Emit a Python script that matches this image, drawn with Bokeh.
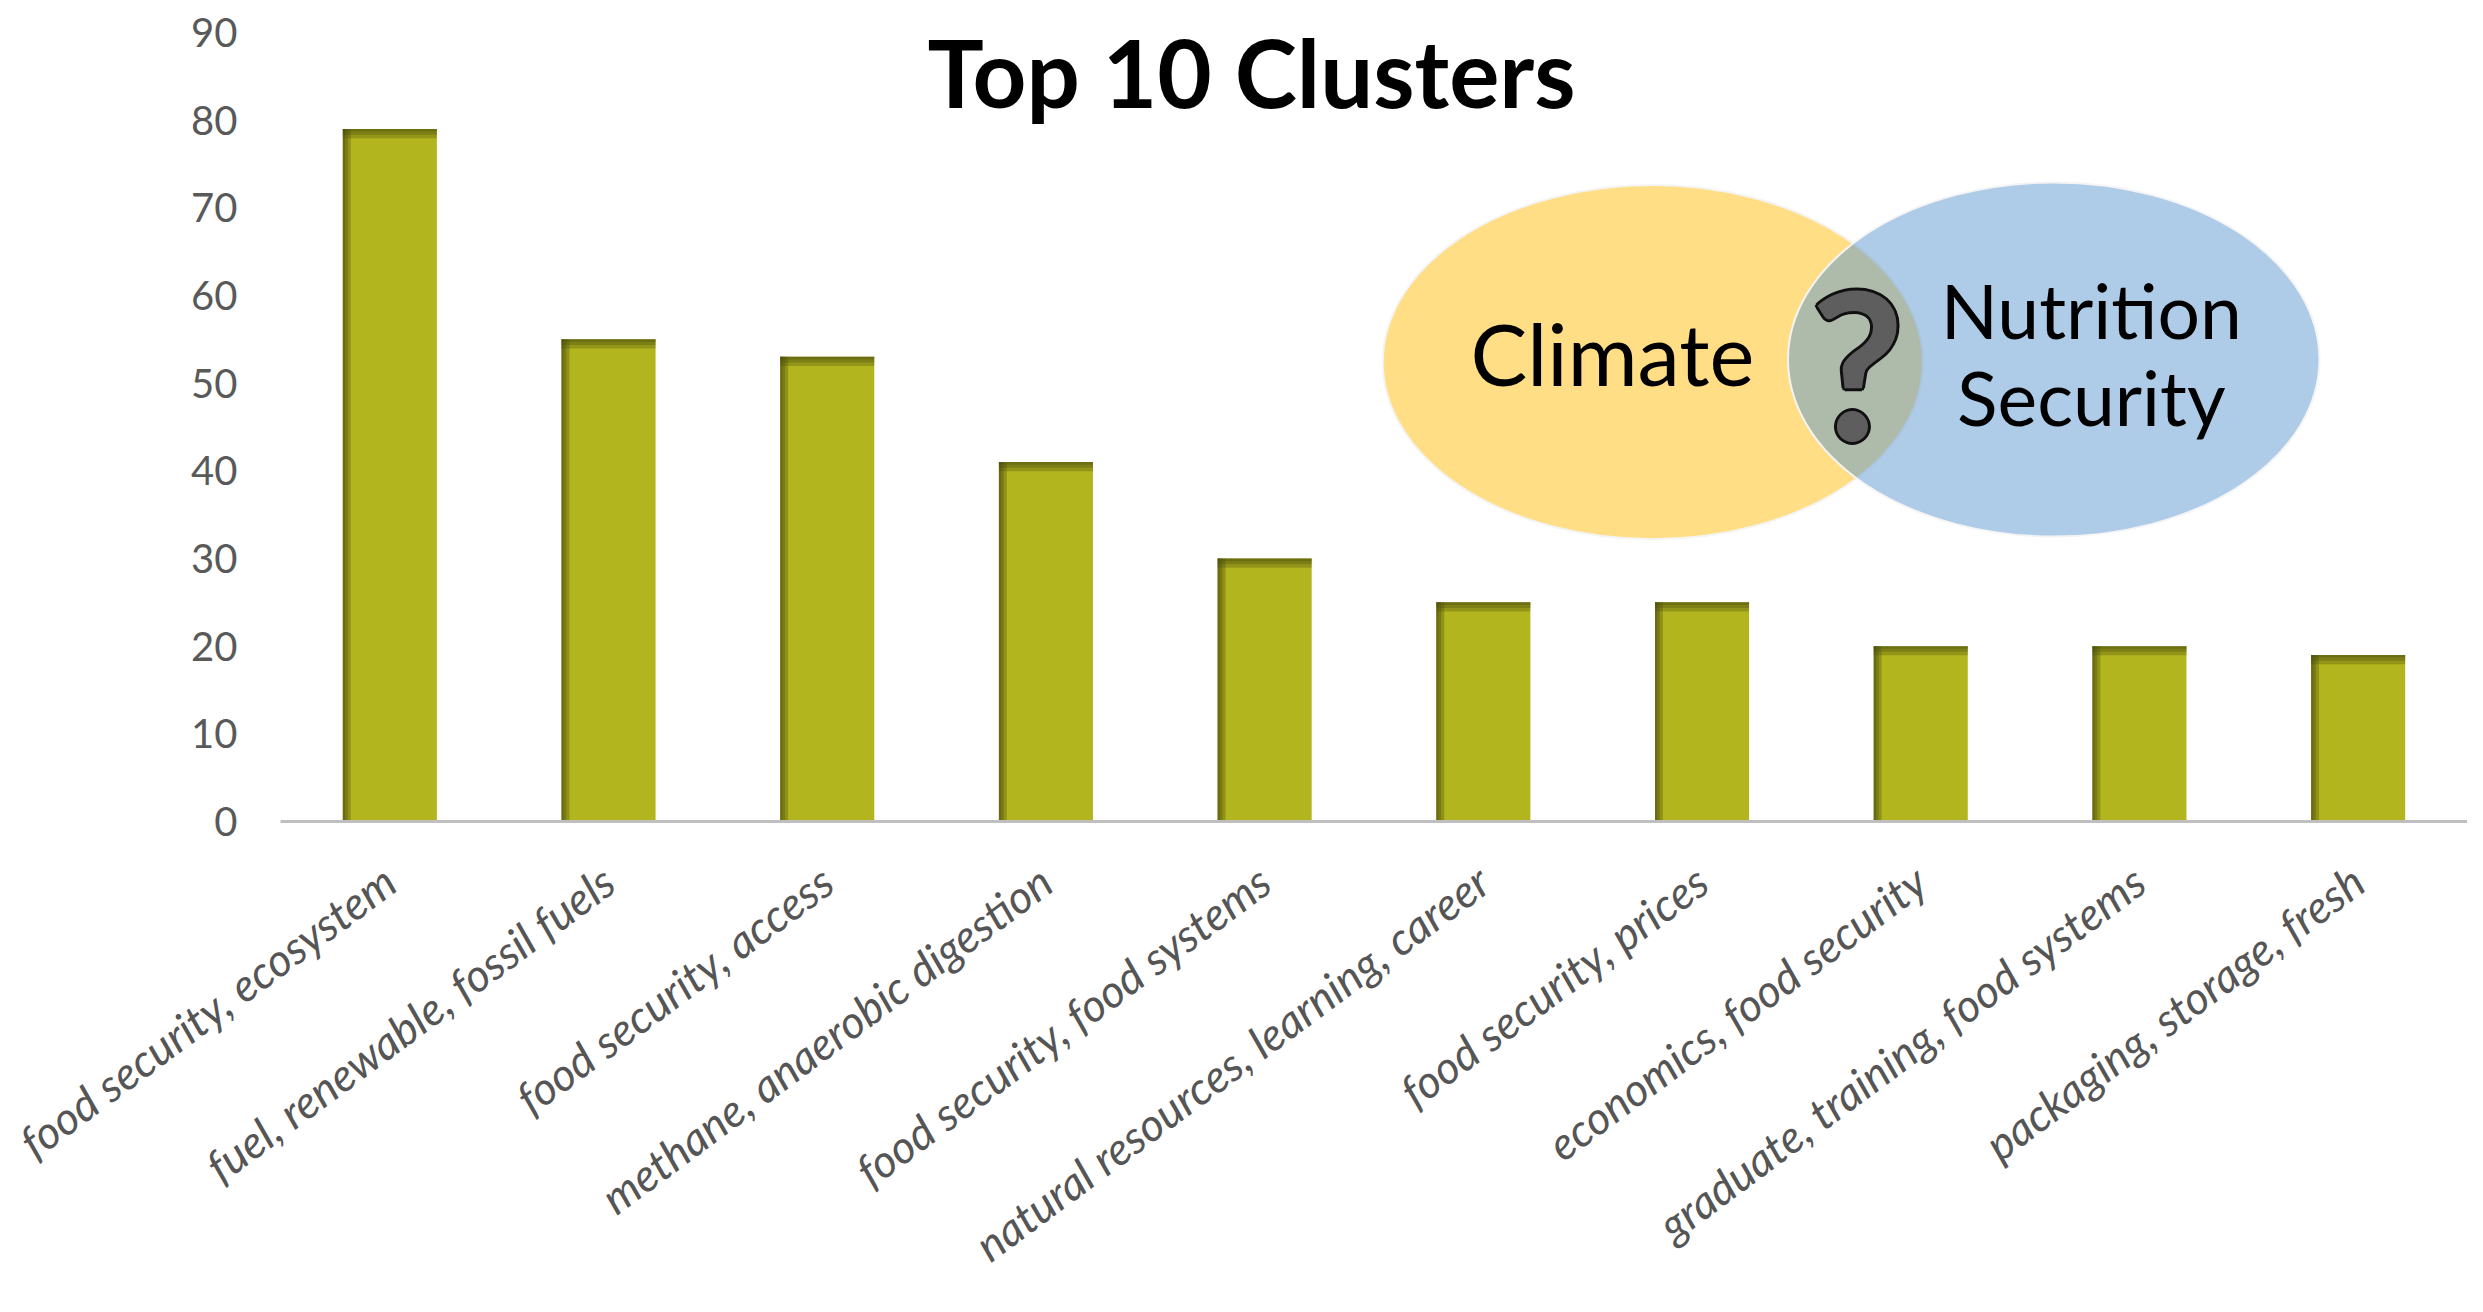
from bokeh.plotting import figure
from bokeh.models import ColumnDataSource, Label, FixedTicker
from bokeh.transform import dodge
from bokeh.core.properties import value
from bokeh.embed import file_html
from bokeh.resources import INLINE

categories = [
    "food security, ecosystem",
    "fuel, renewable, fossil fuels",
    "food security, access",
    "methane, anaerobic digestion",
    "food security, food systems",
    "natural resources, learning, career",
    "food security, prices",
    "economics, food security",
    "graduate, training, food systems",
    "packaging, storage, fresh",
]
counts = [79, 55, 53, 41, 30, 25, 25, 20, 20, 19]
y_ticks = [0, 10, 20, 30, 40, 50, 60, 70, 80, 90]

FONT = "Lato"
BAR_W = 0.43

src = ColumnDataSource(dict(
    cat=categories,
    val=counts,
    b1=[v - 0.3 for v in counts],
    b2=[v - 0.65 for v in counts],
    b3=[v - 1.05 for v in counts],
))

p = figure(x_range=categories, y_range=(0, 90), width=2467, height=1296,
           output_backend="svg", toolbar_location=None,
           min_border_left=280, min_border_right=0, min_border_top=32,
           min_border_bottom=446)
p.outline_line_color = None
p.xgrid.visible = False
p.ygrid.visible = False
p.background_fill_color = "white"

# bars
p.vbar(x="cat", top="val", width=BAR_W, source=src, fill_color="#B3B51E",
       line_color=None)
# inner shadow, left edge
for w in (0.01, 0.022, 0.036):
    p.vbar(x=dodge("cat", -BAR_W / 2 + w / 2, range=p.x_range), top="val",
           width=w, source=src, fill_color="#4A4C0C", fill_alpha=0.33,
           line_color=None)
# inner shadow, top edge
for b in ("b1", "b2", "b3"):
    p.vbar(x="cat", top="val", bottom=b, width=BAR_W, source=src,
           fill_color="#4A4C0C", fill_alpha=0.3, line_color=None)

# axes
ya = p.yaxis[0]
ya.ticker = FixedTicker(ticks=y_ticks)
ya.axis_line_color = None
ya.major_tick_line_color = None
ya.minor_tick_line_color = None
ya.major_label_text_font = FONT
ya.major_label_text_font_size = "40px"
ya.major_label_text_color = "#595959"
ya.major_label_standoff = 37

xa = p.xaxis[0]
xa.axis_line_color = "#BFBFBF"
xa.axis_line_width = 3
xa.major_tick_line_color = None
xa.minor_tick_line_color = None
xa.major_label_orientation = 0.64
xa.major_label_text_font = FONT
xa.major_label_text_font_style = "italic"
xa.major_label_text_font_size = "45px"
xa.major_label_text_color = "#555555"
xa.major_label_standoff = 48

# title
p.add_layout(Label(x=4.44, y=85.6, text="Top 10 Clusters", text_font=FONT,
                   text_font_style="bold", text_font_size="94px",
                   text_align="center", text_baseline="middle",
                   text_color="black"))

# Venn diagram inset
p.ellipse(x=[6.275], y=[52.4], width=[2.47], height=[40.4],
          fill_color="#FFDE85", line_color="#F4F4F4", line_width=2)
p.ellipse(x=[8.108], y=[52.7], width=[2.43], height=[40.4],
          fill_color="#5D97D1", fill_alpha=0.5, line_color="#F4F4F4",
          line_width=2)
p.text(x=[6.09], y=[53.4], text=["Climate"], text_font=value(FONT),
       text_font_size="85px", text_align="center", text_baseline="middle",
       text_color="black")
p.text(x=[8.28, 8.28], y=[58.3, 48.4], text=["Nutrition", "Security"],
       text_font=value(FONT), text_font_size="75px", text_align="center",
       text_baseline="middle", text_color="black")
# question mark with dark outline
for dx, dy in [(-3, 0), (3, 0), (0, -3), (0, 3), (-2, -2), (2, 2), (-2, 2), (2, -2)]:
    p.text(x=[7.21], y=[52.4], text=["?"], text_font=value(FONT),
           text_font_style="bold", text_font_size="205px", text_align="center",
           text_baseline="middle", text_color="#111111", x_offset=dx, y_offset=dy)
p.text(x=[7.21], y=[52.4], text=["?"], text_font=value(FONT),
       text_font_style="bold", text_font_size="205px", text_align="center",
       text_baseline="middle", text_color="#5E5E5E")

open("out.html", "w").write(file_html(p, INLINE))
